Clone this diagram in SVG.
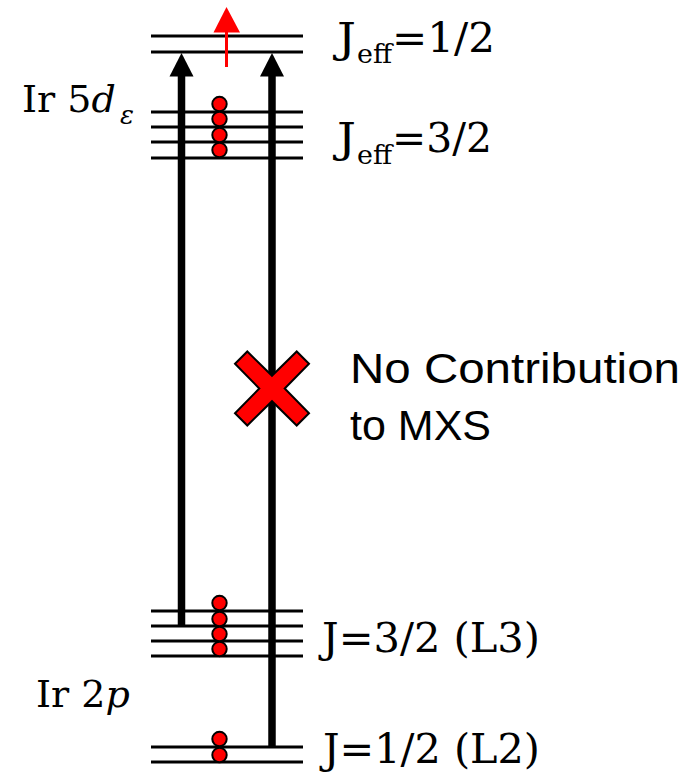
<svg xmlns="http://www.w3.org/2000/svg" width="696" height="783" viewBox="0 0 696 783">
<style>
.lvl{stroke:#000;stroke-width:3;fill:none}
.dot{fill:#ff0000;stroke:#000;stroke-width:2}
.ser{font-family:"DejaVu Serif","Liberation Serif",serif;font-size:41px;fill:#000}
.lab{font-size:38px}
.sub{font-size:26px}
.it{font-style:italic}
.sans{font-family:"Liberation Sans",Arial,sans-serif;font-size:43px;fill:#000}
.shaft{stroke:#000;stroke-width:7.5;fill:none}
</style>
<rect width="696" height="783" fill="#fff"/>
<g id="jeff12">
<line class="lvl" x1="151" y1="36" x2="303" y2="36"/>
<line class="lvl" x1="151" y1="52" x2="303" y2="52"/>
<text class="ser"><tspan x="337" y="52" textLength="19" lengthAdjust="spacingAndGlyphs">J</tspan><tspan class="sub" x="357" y="63" textLength="35" lengthAdjust="spacingAndGlyphs">eff</tspan><tspan x="392" y="52" textLength="103" lengthAdjust="spacingAndGlyphs">=1/2</tspan></text>
</g>
<g id="jeff32">
<line class="lvl" x1="151" y1="112" x2="303" y2="112"/>
<line class="lvl" x1="151" y1="127" x2="303" y2="127"/>
<line class="lvl" x1="151" y1="142" x2="303" y2="142"/>
<line class="lvl" x1="151" y1="158" x2="303" y2="158"/>
<circle class="dot" cx="219.5" cy="104" r="7.2"/>
<circle class="dot" cx="219.5" cy="119" r="7.2"/>
<circle class="dot" cx="219.5" cy="135" r="7.2"/>
<circle class="dot" cx="219.5" cy="150" r="7.2"/>
<text class="ser"><tspan x="337" y="152" textLength="19" lengthAdjust="spacingAndGlyphs">J</tspan><tspan class="sub" x="357" y="164" textLength="35" lengthAdjust="spacingAndGlyphs">eff</tspan><tspan x="392" y="152" textLength="100" lengthAdjust="spacingAndGlyphs">=3/2</tspan></text>
</g>
<g id="ir5d">
<text class="ser lab" x="22" y="112">Ir 5<tspan class="it">d</tspan></text>
<text class="ser it sub" x="120" y="124">ε</text>
</g>
<g id="j32">
<line class="lvl" x1="151" y1="611" x2="303" y2="611"/>
<line class="lvl" x1="151" y1="626" x2="303" y2="626"/>
<line class="lvl" x1="151" y1="641" x2="303" y2="641"/>
<line class="lvl" x1="151" y1="656" x2="303" y2="656"/>
<circle class="dot" cx="219.5" cy="603" r="7.2"/>
<circle class="dot" cx="219.5" cy="619" r="7.2"/>
<circle class="dot" cx="219.5" cy="634" r="7.2"/>
<circle class="dot" cx="219.5" cy="649" r="7.2"/>
<text class="ser" x="322" y="652" textLength="218" lengthAdjust="spacingAndGlyphs">J=3/2 (L3)</text>
</g>
<g id="ir2p">
<text class="ser lab" x="36" y="707">Ir 2<tspan class="it">p</tspan></text>
</g>
<g id="j12">
<line class="lvl" x1="151" y1="747" x2="303" y2="747"/>
<line class="lvl" x1="151" y1="762" x2="303" y2="762"/>
<circle class="dot" cx="219.5" cy="739" r="7.2"/>
<circle class="dot" cx="219.5" cy="755" r="7.2"/>
<text class="ser" x="323" y="763" textLength="217" lengthAdjust="spacingAndGlyphs">J=1/2 (L2)</text>
</g>
<g id="connectors">
<line class="shaft" x1="181.5" y1="75" x2="181.5" y2="626"/>
<polygon points="169.5,76.5 181.5,53 193.5,76.5" fill="#000"/>
<line class="shaft" x1="272" y1="75" x2="272" y2="748"/>
<polygon points="260,76.5 272,53 284,76.5" fill="#000"/>
<line x1="226.5" y1="67" x2="226.5" y2="30" stroke="#ff0000" stroke-width="3"/>
<polygon points="213.5,32.5 226.5,7 240,32.5" fill="#ff0000"/>
</g>
<g id="nocontrib">
<polygon transform="translate(272,388.5)" points="0,-12.7 24.7,-37 37,-24.7 12.7,0 37,24.7 24.7,37 0,12.7 -24.7,37 -37,24.7 -12.7,0 -37,-24.7 -24.7,-37" fill="#ff0000" stroke="#000" stroke-width="2" stroke-linejoin="miter"/>
<text class="sans" x="350" y="383" textLength="330" lengthAdjust="spacingAndGlyphs">No Contribution</text>
<text class="sans" x="350" y="440">to MXS</text>
</g>
</svg>
